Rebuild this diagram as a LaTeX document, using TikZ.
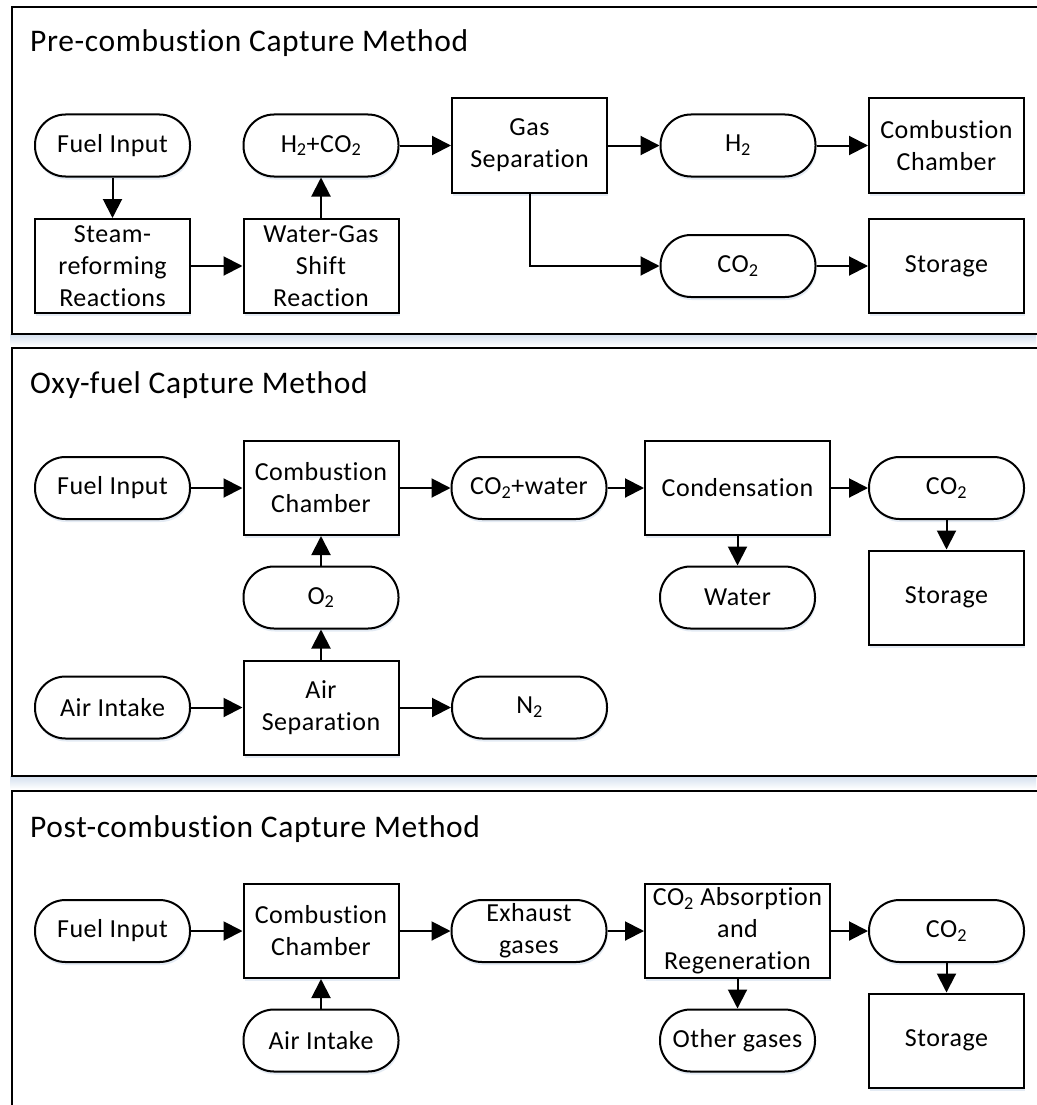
\documentclass[tikz,border=0pt]{standalone}
\usepackage{fontspec}
\setmainfont{Carlito}[LetterSpace=2,RawFeature={-liga;-dlig}]
\usetikzlibrary{arrows.meta,shadows}
\definecolor{shblue}{HTML}{D3DFEE}
\newcommand\subtwo{\textsubscript{2}}
\begin{document}
\begin{tikzpicture}[x=1pt,y=-1pt,
  txt/.style={font=\fontsize{26}{32}\selectfont, align=center, inner sep=1pt},
  nshadow/.style={general shadow={fill=shblue, shadow xshift=1pt, shadow yshift=-3pt, opacity=0.6}},
  pill/.style={txt, draw, line width=2pt, fill=white, rounded corners=30.5pt, minimum width=155pt, minimum height=62pt, nshadow},
  box/.style={txt, draw, line width=2pt, fill=white, minimum width=155pt, minimum height=94pt, nshadow},
  widebox/.style={box, minimum width=185pt},
  arr/.style={line width=2pt, -{Triangle[length=19pt,width=19pt]}},
  frame/.style={draw, line width=2.5pt},
  title/.style={font=\fontsize{31.5}{38}\selectfont, anchor=base west, inner sep=0pt}]
\useasboundingbox[fill=white] (0,0) rectangle (1036,1105);
% panel shadows
\shade[top color=shblue, bottom color=white] (10,334) rectangle (1036,346);
\shade[top color=shblue, bottom color=white] (10,776) rectangle (1036,789);
% frames
\draw[frame] (12,1120) -- (12,791) -- (1050,791);
\draw[frame] (12,348) rectangle (1050,776);
\draw[frame] (12,7) rectangle (1050,334);
% titles
\node[title] (t1) at (30,52) {Pre-combustion Capture Method};
\node[title] (t2) at (30,393) {Oxy-fuel Capture Method};
\node[title] (t3) at (30,837) {Post-combustion Capture Method};
% ---- Panel 1
\node[pill] (p1fuel) at (112.5,145.5) {Fuel Input};
\node[box]  (p1steam) at (112.5,266) {Steam-\\reforming\\Reactions};
\node[pill] (p1hco) at (321,145.5) {H\subtwo+CO\subtwo};
\node[box]  (p1wgs) at (321,266) {Water-Gas\\Shift\\Reaction};
\node[box]  (p1gas) at (529.5,145.5) {Gas\\Separation};
\node[pill] (p1h2) at (738,145.5) {H\subtwo};
\node[box]  (p1cc) at (946.5,145.5) {Combustion\\Chamber};
\node[pill] (p1co2) at (738,266) {CO\subtwo};
\node[box]  (p1sto) at (946.5,266) {Storage};
\draw[arr] (p1fuel) -- (p1steam);
\draw[arr] (p1steam) -- (p1wgs);
\draw[arr] (p1wgs) -- (p1hco);
\draw[arr] (p1hco) -- (p1gas);
\draw[arr] (p1gas) -- (p1h2);
\draw[arr] (p1h2) -- (p1cc);
\draw[arr] (p1gas.south) |- (p1co2.west);
\draw[arr] (p1co2) -- (p1sto);
% ---- Panel 2
\node[pill] (p2fuel) at (112.5,488) {Fuel Input};
\node[box]  (p2cc) at (321,488) {Combustion\\Chamber};
\node[pill] (p2cow) at (529,488) {CO\subtwo+water};
\node[widebox] (p2cond) at (737.5,488) {Condensation};
\node[pill] (p2co2) at (946.5,488) {CO\subtwo};
\node[pill] (p2water) at (737.5,597.5) {Water};
\node[box]  (p2sto) at (946.5,597.5) {Storage};
\node[pill] (p2o2) at (321,597.5) {O\subtwo};
\node[pill] (p2air) at (112.5,707.5) {Air Intake};
\node[box]  (p2asep) at (321,707.5) {Air\\Separation};
\node[pill] (p2n2) at (529.5,707.5) {N\subtwo};
\draw[arr] (p2fuel) -- (p2cc);
\draw[arr] (p2cc) -- (p2cow);
\draw[arr] (p2cow) -- (p2cond);
\draw[arr] (p2cond) -- (p2co2);
\draw[arr] (p2cond) -- (p2water);
\draw[arr] (p2co2) -- (p2sto);
\draw[arr] (p2o2) -- (p2cc);
\draw[arr] (p2asep) -- (p2o2);
\draw[arr] (p2air) -- (p2asep);
\draw[arr] (p2asep) -- (p2n2);
% ---- Panel 3
\node[pill] (p3fuel) at (112.5,931) {Fuel Input};
\node[box]  (p3cc) at (321,931) {Combustion\\Chamber};
\node[pill] (p3air) at (321,1040.5) {Air Intake};
\node[pill] (p3exh) at (529,931) {Exhaust\\gases};
\node[widebox] (p3abs) at (737.5,931) {CO\subtwo{} Absorption\\and\\Regeneration};
\node[pill] (p3co2) at (946.5,931) {CO\subtwo};
\node[pill] (p3other) at (737.5,1040.5) {Other gases};
\node[box]  (p3sto) at (946.5,1040.5) {Storage};
\draw[arr] (p3fuel) -- (p3cc);
\draw[arr] (p3air) -- (p3cc);
\draw[arr] (p3cc) -- (p3exh);
\draw[arr] (p3exh) -- (p3abs);
\draw[arr] (p3abs) -- (p3co2);
\draw[arr] (p3abs) -- (p3other);
\draw[arr] (p3co2) -- (p3sto);
\end{tikzpicture}
\end{document}
